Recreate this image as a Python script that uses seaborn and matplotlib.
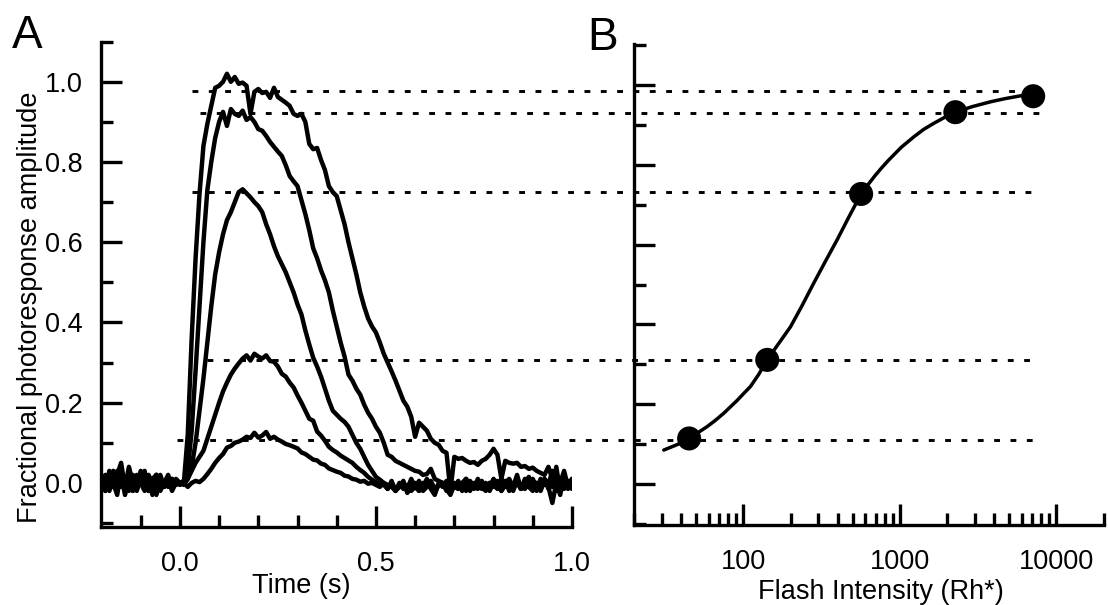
import numpy as np
import pandas as pd
import matplotlib
matplotlib.use("Agg")
import matplotlib.pyplot as plt
import seaborn as sns
from matplotlib.ticker import FixedLocator, FixedFormatter, FormatStrFormatter, NullFormatter

sns.set_style("ticks")
plt.rcParams['font.family'] = ['Liberation Sans', 'DejaVu Sans']
plt.rcParams['text.color'] = 'black'
plt.rcParams['axes.labelcolor'] = 'black'
plt.rcParams['xtick.color'] = 'black'
plt.rcParams['ytick.color'] = 'black'

# ---------------- data ----------------
time_s = np.round(np.linspace(-0.2, 1.0, 121), 2)

# rows of 10 samples: -0.20.., -0.10.., 0.00.., 0.10.., ..., 0.90.., 1.00
trace_1 = [
    0.01, -0.02, 0.02, 0.00, -0.03, 0.03, -0.01, 0.01, -0.02, 0.02,
    0.00, -0.02, 0.01, -0.01, 0.02, -0.02, 0.00, 0.01, -0.01, 0.00,
    -0.005, 0.0, -0.01, 0.0, 0.005, 0.002, 0.01, 0.022, 0.035, 0.05,
    0.062, 0.072, 0.088, 0.092, 0.1, 0.103, 0.108, 0.115, 0.112, 0.125,
    0.113, 0.118, 0.127, 0.11, 0.115, 0.108, 0.103, 0.097, 0.094, 0.09,
    0.086, 0.076, 0.072, 0.065, 0.058, 0.056, 0.048, 0.045, 0.036, 0.032,
    0.028, 0.025, 0.018, 0.016, 0.01, 0.008, 0.003, 0.005, -0.002, 0.0,
    -0.005, -0.01, 0.0, -0.015, 0.005, -0.02, -0.005, 0.0, -0.015, 0.01,
    -0.01, -0.02, 0.0, -0.01, 0.005, -0.015, -0.005, 0.0, -0.02, 0.005,
    -0.01, -0.015, 0.0, 0.01, -0.01, -0.005, 0.005, -0.015, 0.0, -0.01,
    0.01, -0.005, -0.02, 0.0, 0.01, -0.01, 0.005, -0.015, 0.0, 0.015,
    -0.01, 0.0, -0.005, 0.01, -0.015, 0.005, 0.0, -0.03, 0.02, -0.01,
    0.01]
trace_2 = [
    -0.01, 0.02, -0.02, 0.01, 0.03, -0.01, 0.0, -0.02, 0.02, -0.01,
    0.01, 0.03, -0.02, 0.0, -0.01, 0.02, -0.01, 0.0, 0.01, -0.005,
    0.0, -0.005, 0.01, 0.03, 0.05, 0.065, 0.08, 0.11, 0.14, 0.17,
    0.2, 0.228, 0.25, 0.27, 0.285, 0.298, 0.31, 0.318, 0.305, 0.322,
    0.315, 0.31, 0.318, 0.304, 0.302, 0.29, 0.272, 0.265, 0.25, 0.238,
    0.218, 0.2, 0.18, 0.16, 0.155, 0.128, 0.118, 0.105, 0.09, 0.082,
    0.076, 0.068, 0.062, 0.056, 0.05, 0.04, 0.032, 0.025, 0.015, 0.008,
    0.002, -0.005, -0.005, -0.015, 0.0, -0.02, -0.01, 0.005, -0.025, -0.01,
    0.0, -0.02, -0.01, 0.01, -0.015, -0.03, 0.0, -0.01, 0.005, -0.02,
    -0.01, 0.005, -0.02, -0.005, 0.0, -0.015, 0.01, -0.01, -0.02, 0.0,
    -0.005, -0.015, 0.01, -0.01, 0.0, -0.02, 0.005, -0.01, -0.015, 0.0,
    0.01, -0.01, -0.02, 0.005, -0.01, -0.05, 0.0, 0.01, -0.015, 0.005,
    -0.01]
trace_3 = [
    0.02, -0.01, 0.0, 0.03, -0.02, 0.01, -0.01, 0.04, 0.0, -0.02,
    0.01, -0.01, 0.02, 0.0, -0.03, 0.01, 0.0, -0.01, 0.01, 0.0,
    0.0, 0.0, 0.01, 0.04, 0.1, 0.18, 0.26, 0.35, 0.44, 0.52,
    0.575, 0.62, 0.655, 0.675, 0.7, 0.725, 0.732, 0.722, 0.712, 0.7,
    0.69, 0.675, 0.645, 0.62, 0.59, 0.565, 0.545, 0.525, 0.5, 0.475,
    0.445, 0.42, 0.38, 0.345, 0.312, 0.29, 0.265, 0.235, 0.205, 0.18,
    0.17, 0.16, 0.152, 0.14, 0.12, 0.1, 0.085, 0.065, 0.045, 0.03,
    0.015, 0.008, 0.0, -0.005, -0.01, -0.02, 0.0, -0.015, -0.005, -0.02,
    -0.01, 0.005, -0.02, -0.01, 0.0, -0.025, -0.005, 0.0, -0.015, -0.03,
    -0.005, -0.01, 0.0, -0.02, 0.005, -0.01, -0.015, 0.0, -0.01, -0.02,
    0.0, -0.01, -0.005, 0.005, -0.02, -0.01, 0.0, -0.015, 0.01, -0.01,
    -0.02, 0.0, -0.01, 0.01, -0.005, 0.03, -0.02, -0.005, 0.0, -0.015,
    0.0]
trace_4 = [
    -0.02, 0.01, 0.0, -0.01, 0.02, 0.05, -0.01, 0.01, -0.02, 0.0,
    0.02, -0.01, 0.01, -0.03, 0.02, 0.0, -0.01, 0.01, -0.02, 0.0,
    0.0, 0.005, 0.03, 0.13, 0.28, 0.44, 0.6, 0.73, 0.8, 0.86,
    0.9, 0.925, 0.89, 0.932, 0.92, 0.915, 0.928, 0.905, 0.912, 0.9,
    0.882, 0.878, 0.865, 0.85, 0.838, 0.826, 0.815, 0.792, 0.765, 0.752,
    0.74, 0.705, 0.67, 0.63, 0.585, 0.56, 0.53, 0.505, 0.475, 0.43,
    0.39, 0.35, 0.315, 0.27, 0.255, 0.235, 0.22, 0.195, 0.175, 0.16,
    0.14, 0.125, 0.1, 0.07, 0.065, 0.055, 0.05, 0.045, 0.04, 0.035,
    0.03, 0.028, 0.02, 0.022, 0.035, 0.01, 0.005, 0.0, -0.005, -0.01,
    0.0, -0.015, -0.005, 0.01, -0.02, 0.0, -0.01, 0.005, -0.015, 0.0,
    -0.01, 0.005, -0.02, -0.005, 0.0, -0.01, 0.02, -0.015, 0.005, -0.01,
    0.0, -0.02, 0.01, -0.005, 0.005, -0.01, 0.04, -0.02, 0.01, -0.005,
    -0.015]
trace_5 = [
    0.01, -0.02, 0.03, -0.01, 0.0, 0.02, -0.03, 0.01, 0.0, -0.01,
    0.03, 0.0, -0.02, 0.01, 0.02, -0.01, 0.0, 0.02, -0.01, 0.01,
    0.0, 0.0, 0.12, 0.36, 0.56, 0.72, 0.84, 0.895, 0.94, 0.985,
    0.99, 1.0, 1.02, 1.0, 1.012, 0.995, 0.998, 0.99, 0.92, 0.975,
    0.982, 0.972, 0.975, 0.96, 0.985, 0.962, 0.955, 0.948, 0.94, 0.92,
    0.915, 0.92, 0.9, 0.845, 0.832, 0.835, 0.805, 0.78, 0.74, 0.725,
    0.715, 0.68, 0.645, 0.6, 0.56, 0.52, 0.475, 0.44, 0.41, 0.39,
    0.375, 0.35, 0.322, 0.3, 0.278, 0.255, 0.23, 0.205, 0.19, 0.165,
    0.115, 0.15, 0.14, 0.13, 0.11, 0.1, 0.095, 0.08, 0.075, -0.02,
    0.065, 0.06, 0.062, 0.055, 0.05, 0.052, 0.045, 0.055, 0.06, 0.07,
    0.085, 0.07, 0.01, 0.055, 0.05, 0.048, 0.05, 0.04, 0.042, 0.035,
    0.038, 0.03, 0.025, 0.02, 0.04, 0.01, 0.02, 0.0, 0.03, -0.01,
    0.01]

# Panel B: intensity-response relation
intensity_rh = [45, 142, 565, 2260, 7100]
amplitude = [0.114, 0.311, 0.727, 0.932, 0.972]
fit_intensity = [31, 38, 44.7, 51, 58.6, 66, 74.8, 82, 91, 100, 110.8, 125, 141.7, 168, 200,
                 237, 281, 334, 397, 470, 565, 630, 697, 770, 848, 1020, 1225, 1420, 1644,
                 1930, 2263, 2900, 3787, 4700, 5888, 7000]
fit_amplitude = [0.085, 0.099, 0.1145, 0.128, 0.1436, 0.159, 0.177, 0.192, 0.209, 0.226,
                 0.244, 0.274, 0.311, 0.352, 0.394, 0.447, 0.503, 0.558, 0.612, 0.668,
                 0.727, 0.752, 0.774, 0.794, 0.812, 0.844, 0.870, 0.889, 0.904,
                 0.919, 0.932, 0.946, 0.958, 0.966, 0.973, 0.976]

# dotted reference levels (fraction, in panel A units), start time, end intensity
level_amplitude = [0.976, 0.922, 0.726, 0.307, 0.107]
level_start_s = [0.032, 0.051, 0.032, 0.068, -0.008]
level_end_rh = [6150, 8900, 7900, 7650, 7550]

time_ticks = [0.0, 0.5, 1.0]
time_minor = [-0.1, 0.1, 0.2, 0.3, 0.4, 0.6, 0.7, 0.8, 0.9]
amp_ticks = [0.0, 0.2, 0.4, 0.6, 0.8, 1.0]
amp_minor = [-0.1, 0.1, 0.3, 0.5, 0.7, 0.9, 1.1]
int_ticks = [100, 1000, 10000]
int_tick_labels = ["100", "1000", "10000"]
int_minor = [20, 30, 40, 50, 60, 70, 80, 90, 200, 300, 400, 500, 600, 700, 800, 900,
             2000, 3000, 4000, 5000, 6000, 7000, 8000, 9000, 20000]

traces = {"1": trace_1, "2": trace_2, "3": trace_3, "4": trace_4, "5": trace_5}
df = pd.concat([pd.DataFrame({"time": time_s, "response": np.asarray(v, float), "trace": k})
                for k, v in traces.items()], ignore_index=True)

# ---------------- figure ----------------
fig = plt.figure(figsize=(11.08, 6.05), dpi=100)
axA = fig.add_axes([0.0916, 0.1289, 0.4246, 0.8022])
axB = fig.add_axes([0.5722, 0.1322, 0.4238, 0.7951])
for ax in (axA, axB):
    ax.patch.set_visible(False)

FS = 19.5
LW_SPINE = 2.4

# Panel A traces
sns.lineplot(data=df, x="time", y="response", units="trace", estimator=None,
             sort=False, color="black", legend=False, ax=axA)
for ln in axA.get_lines():
    ln.set_linewidth(3.2)
    ln.set_solid_joinstyle("round")
axA.set_xlim(-0.2, 1.0)
axA.set_ylim(-0.11, 1.1)
axA.xaxis.set_major_locator(FixedLocator(time_ticks))
axA.xaxis.set_minor_locator(FixedLocator(time_minor))
axA.yaxis.set_major_locator(FixedLocator(amp_ticks))
axA.yaxis.set_minor_locator(FixedLocator(amp_minor))
axA.xaxis.set_major_formatter(FormatStrFormatter("%.1f"))
axA.yaxis.set_major_formatter(FormatStrFormatter("%.1f"))
axA.set_xlabel("Time (s)", fontsize=FS, color="black")
axA.set_ylabel("Fractional photoresponse amplitude", fontsize=FS, color="black")
axA.xaxis.set_label_coords(0.424, -0.094)
axA.yaxis.set_label_coords(-0.125, 0.452)

# Panel B
axB.set_xscale("log")
sns.lineplot(x=fit_intensity, y=fit_amplitude, color="black", ax=axB)
for ln in axB.get_lines():
    ln.set_linewidth(2.5)
sns.scatterplot(x=intensity_rh, y=amplitude, s=300, color="black", edgecolor="none",
                linewidth=0, ax=axB, zorder=5, clip_on=False)
axB.set_xlim(20, 20000)
axB.set_ylim(-0.103, 1.103)
axB.xaxis.set_major_locator(FixedLocator(int_ticks))
axB.xaxis.set_major_formatter(FixedFormatter(int_tick_labels))
axB.xaxis.set_minor_locator(FixedLocator(int_minor))
axB.xaxis.set_minor_formatter(NullFormatter())
axB.yaxis.set_major_locator(FixedLocator(amp_ticks))
axB.yaxis.set_minor_locator(FixedLocator(amp_minor))
axB.yaxis.set_major_formatter(NullFormatter())
axB.set_ylabel("")
axB.set_xlabel("Flash Intensity (Rh*)", fontsize=FS, color="black")
axB.xaxis.set_label_coords(0.526, -0.113)

for ax in (axA, axB):
    sns.despine(ax=ax)
    for side in ("left", "bottom"):
        ax.spines[side].set_linewidth(LW_SPINE)
        ax.spines[side].set_color("black")
    ax.tick_params(which="both", direction="in", width=LW_SPINE, color="black",
                   labelsize=FS, labelcolor="black")
    ax.tick_params(which="major", length=15)
    ax.tick_params(which="minor", length=8.5)
    ax.tick_params(axis="x", which="both", pad=17)
    ax.tick_params(axis="y", which="both", pad=13.5)

# dotted reference levels spanning both panels
for y_lvl, t0, x_end in zip(level_amplitude, level_start_s, level_end_rh):
    x_disp = axB.transData.transform((x_end, 0.5))[0]
    t_end = axA.transData.inverted().transform((x_disp, 0.5))[0]
    axA.plot([t0, t_end], [y_lvl, y_lvl], color="black", linewidth=2.1,
             linestyle=(0, (2, 3.6)), clip_on=False, zorder=1)

fig.text(0.0104, 0.9207, "A", fontsize=33, va="baseline", ha="left", color="black")
fig.text(0.5298, 0.9174, "B", fontsize=33, va="baseline", ha="left", color="black")

fig.savefig("out.png", dpi=100)
